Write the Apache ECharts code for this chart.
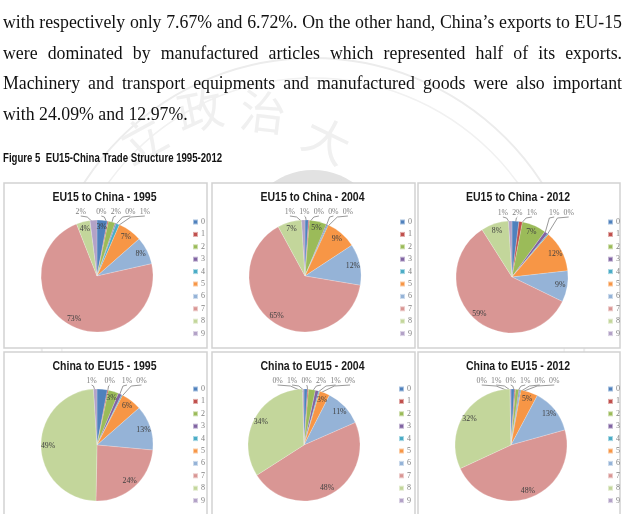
<!DOCTYPE html>
<html>
<head>
<meta charset="utf-8">
<script src="https://cdn.jsdelivr.net/npm/echarts@6/dist/echarts.min.js"></script>
<style>
  html, body { margin: 0; padding: 0; background: #fff; }
  #wrap { position: relative; width: 625px; height: 514px; overflow: hidden; }
  #chart { position: absolute; left: 0; top: 0; width: 625px; height: 514px; }
  .para { position: absolute; left: 3px; top: 7px; width: 619px;
    font-family: "Liberation Serif", "Times New Roman", serif; font-size: 17.8px;
    line-height: 30.7px; color: #111; }
  .para div { text-align: justify; text-align-last: justify; white-space: nowrap; }
  .para div.last { text-align-last: left; }
  .cap { position: absolute; left: 3px; top: 150px; font-weight: bold; font-size: 13px; white-space: nowrap;
    font-family: "Liberation Sans", sans-serif; color: #111; transform-origin: 0 0; }
</style>
</head>
<body>
<div id="wrap">
  <div id="chart"></div>
  <div class="para">
    <div>with respectively only 7.67% and 6.72%. On the other hand, China’s exports to EU-15</div>
    <div>were dominated by manufactured articles which represented half of its exports.</div>
    <div>Machinery and transport equipments and manufactured goods were also important</div>
    <div class="last">with 24.09% and 12.97%.</div>
  </div>
  <div class="cap" id="cap">Figure 5&nbsp; EU15-China Trade Structure 1995-2012</div>
</div>
<script>
  // product groups (SITC 0-9)
  const categories = ['0', '1', '2', '3', '4', '5', '6', '7', '8', '9']
  const colors = ['#4F81BD', '#C0504D', '#9BBB59', '#8064A2', '#4BACC6',
                  '#F79646', '#95B3D7', '#D99694', '#C3D69B', '#B3A2C7']

  // shares in %
  const euToChina1995 = [3, 0.3, 2, 0.3, 1, 7, 8, 73, 4, 2]
  const euToChina2004 = [1, 0.3, 5, 0.3, 0.3, 9, 12, 65, 7, 1]
  const euToChina2012 = [2, 1, 7, 1, 0.3, 12, 9, 59, 8, 1]
  const chinaToEu1995 = [3, 0.3, 3, 1, 0.3, 6, 13, 24, 49, 1]
  const chinaToEu2004 = [1, 0.3, 2, 1, 0.3, 3, 11, 48, 34, 0.4]
  const chinaToEu2012 = [1, 0.3, 1, 0.3, 0.3, 5, 13, 48, 32, 0.3]

  const panels = [
    { title: 'EU15 to China - 1995', data: euToChina1995, box: [4, 183, 203, 165], center: [97, 276], legend: [192, 217] },
    { title: 'EU15 to China - 2004', data: euToChina2004, box: [212, 183, 203, 165], center: [305, 276], legend: [399, 217] },
    { title: 'EU15 to China - 2012', data: euToChina2012, box: [418, 183, 202, 165], center: [512, 277], legend: [607, 217] },
    { title: 'China to EU15 - 1995', data: chinaToEu1995, box: [4, 352, 203, 170], center: [97, 445], legend: [192, 384] },
    { title: 'China to EU15 - 2004', data: chinaToEu2004, box: [212, 352, 203, 170], center: [304, 445], legend: [398, 384] },
    { title: 'China to EU15 - 2012', data: chinaToEu2012, box: [418, 352, 202, 170], center: [511, 445], legend: [607, 384] }
  ]
  const R = 56
  const SMALL = 3
  const pct = v => Math.round(v) + '%'

  // caption is Calibri in the original, squeeze a sans to the same width
  const cap = document.getElementById('cap')
  cap.style.transform = 'scaleX(' + (219 / cap.scrollWidth) + ')'

  // Excel puts the small slice labels in a row above the pie
  function topRowLabels(p) {
    const total = p.data.reduce((a, b) => a + b, 0)
    let cum = 0
    let items = []
    p.data.forEach((v, k) => {
      const a = (90 - 360 * (cum + v / 2) / total) * Math.PI / 180
      cum += v
      if (v >= SMALL) return
      const rim = [p.center[0] + R * 0.95 * Math.cos(a), p.center[1] - R * 0.95 * Math.sin(a)]
      items.push({ k: k, rim: rim, x: p.center[0] + (rim[0] - p.center[0]) * 1.5 })
    })
    items.sort((a, b) => a.x - b.x)
    const before = items.reduce((s, it) => s + it.x, 0) / items.length
    for (let i = 1; i < items.length; i++) {
      items[i].x = Math.max(items[i].x, items[i - 1].x + 14.5)
    }
    const after = items.reduce((s, it) => s + it.x, 0) / items.length
    let out = {}
    items.forEach(it => {
      out[it.k] = { x: it.x + before - after, y: p.center[1] - R - 8, rim: it.rim }
    })
    return out
  }

  const chart = echarts.init(document.getElementById('chart'))

  let pies = []
  let labelPies = []
  let legends = []
  let graphics = []

  // faint university seal behind the text
  graphics.push(
    { type: 'circle', shape: { cx: 313, cy: 330, r: 272 }, style: { fill: 'none', stroke: '#ececec', lineWidth: 2 }, z: 0 },
    { type: 'circle', shape: { cx: 313, cy: 330, r: 252 }, style: { fill: 'none', stroke: '#f1f1f1', lineWidth: 1.5 }, z: 0 },
    { type: 'circle', shape: { cx: 313, cy: 240, r: 70 }, style: { fill: '#e2e2e2' }, z: 0 }
  )
  const seal = [['立', 143, 140, 0.5], ['政', 200, 110, 0.2], ['治', 263, 112, -0.12], ['大', 327, 140, -0.45]]
  seal.forEach(s => {
    graphics.push({ type: 'text', x: s[1], y: s[2], rotation: s[3], z: 0,
      style: { text: s[0], font: '46px "Noto Sans CJK TC"', fill: '#f0f0f0', align: 'center', verticalAlign: 'middle' } })
  })

  panels.forEach((p, i) => {
    graphics.push({ type: 'rect', z: 1, shape: { x: p.box[0], y: p.box[1], width: p.box[2], height: p.box[3] },
      style: { fill: '#fff', stroke: '#d2d2d2', lineWidth: 1.5 } })
    graphics.push({ type: 'text', z: 3, x: p.box[0] + p.box[2] / 2 - 1, y: p.box[1] + 14, scaleX: 0.81,
      style: { text: p.title, font: 'bold 13px "Liberation Sans", sans-serif',
        fill: '#1a1a1a', align: 'center', verticalAlign: 'middle' } })

    const row = topRowLabels(p)
    pies.push({
      type: 'pie', name: p.title, center: p.center, radius: R, startAngle: 90, clockwise: true,
      avoidLabelOverlap: false, silent: true,
      itemStyle: { borderColor: 'rgba(255,255,255,0.5)', borderWidth: 0.4 },
      labelLine: { length: 6, length2: 8, lineStyle: { color: '#7f7f7f', width: 0.8 } },
      labelLayout: function (params) {
        const pos = row[params.dataIndex]
        if (!pos) return {}
        return {
          x: pos.x, y: pos.y, align: 'center', verticalAlign: 'middle',
          labelLinePoints: [pos.rim, [(pos.rim[0] + pos.x) / 2, pos.y + 5], [pos.x, pos.y + 4]]
        }
      },
      data: p.data.map((v, k) => ({
        name: categories[k], value: v,
        label: { show: v < SMALL, position: 'outside', formatter: pct(v), fontSize: 7.8, color: '#7f7f7f',
          fontFamily: 'Liberation Serif' },
        labelLine: { show: v < SMALL }
      }))
    })
    // transparent ring only to place the inside labels out near the rim, like Excel
    labelPies.push({
      type: 'pie', name: p.title + ' labels', center: p.center, radius: [R * 0.64, R], startAngle: 90,
      silent: true, itemStyle: { color: 'rgba(0,0,0,0)' }, labelLine: { show: false },
      data: p.data.map((v, k) => ({
        name: categories[k], value: v,
        label: { show: v >= SMALL, position: 'inside', formatter: pct(v), fontSize: 7.8, color: '#404040',
          fontFamily: 'Liberation Serif' }
      }))
    })
    legends.push({
      data: categories, orient: 'vertical', left: p.legend[0], top: p.legend[1], padding: 0,
      icon: 'rect', itemWidth: 5, itemHeight: 5, itemGap: 2.4, selectedMode: false,
      textStyle: { fontSize: 8, lineHeight: 10, color: '#808080', fontFamily: 'Liberation Serif', padding: [0, 0, 0, -2] }
    })
  })

  chart.setOption({
    animation: false,
    color: colors,
    legend: legends,
    graphic: { elements: graphics },
    series: pies.concat(labelPies)
  })
</script>
</body>
</html>
